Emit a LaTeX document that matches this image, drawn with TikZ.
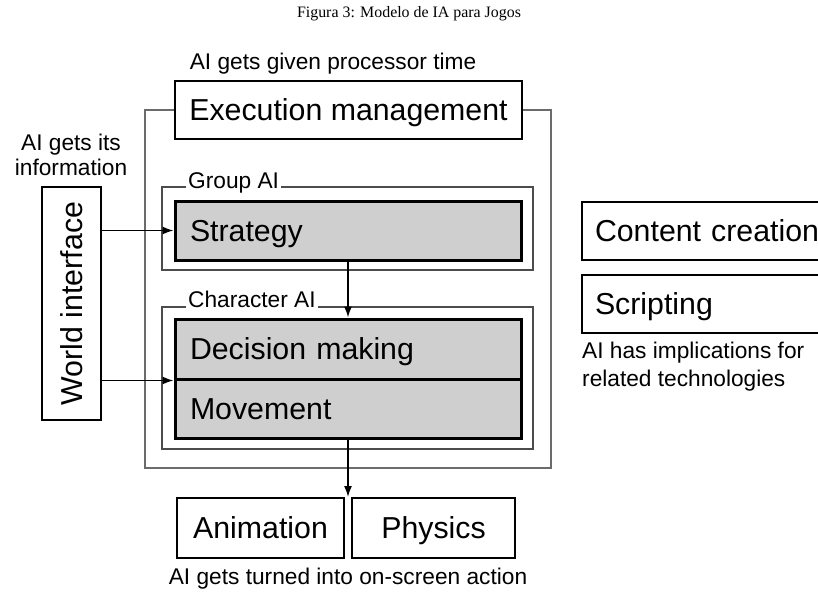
\documentclass[tikz,border=0pt]{standalone}
\usepackage{fontspec}
\setmainfont{Liberation Sans}
\newfontfamily\titlefont{Liberation Serif}
\usetikzlibrary{arrows.meta}
\definecolor{boxgray}{gray}{0.81}
\definecolor{framegray}{gray}{0.3}
\definecolor{outergray}{gray}{0.42}
\begin{document}
\begin{tikzpicture}[x=1pt,y=-1pt,
  big/.style={font=\fontsize{30.3}{36}\selectfont, text height=21.7pt, text depth=0pt},
  small/.style={font=\fontsize{22.7}{25}\selectfont},
  plainbox/.style={draw=black, line width=2.5pt, fill=white, big, inner sep=0pt},
  sidebox/.style={plainbox, text width=232pt, align=left, inner xsep=13pt, inner ysep=0pt, minimum height=58pt},
  aibox/.style={draw=black, line width=3pt, fill=boxgray, big, text width=316pt, align=left, inner xsep=15pt, inner ysep=0pt},
  aiframe/.style={draw=framegray, line width=1.6pt},
  framelabel/.style={small, fill=white, inner xsep=2pt, inner ysep=3pt, anchor=base west},
  note/.style={small, inner sep=0pt},
  arr/.style={line width=1.6pt, -{Latex[length=11pt,width=8pt]}},
]
\useasboundingbox (0,0) rectangle (818,591);
\clip (0,0) rectangle (818,591);

% caption
\node[font=\titlefont\fontsize{15.9}{19}\selectfont] (title) at (409,14) {Figura 3: Modelo de IA para Jogos};

% outer frame hanging from the execution manager
\coordinate (ol) at (145,110);
\coordinate (or) at (551,110);
\draw[draw=outergray, line width=2.5pt] (175,110) -- (ol) -- (145,468) -- (551,468) -- (or) -- (522,110);

% group and character frames
\draw[aiframe] (162,187) rectangle (533,270);
\draw[aiframe] (162,307) rectangle (533,449);
\node[framelabel] (grouplbl) at (186,188) {Group AI};
\node[framelabel] (charlbl) at (186,307) {Character AI};

% execution management
\node[note, anchor=base] (exectxt) at (333,70) {AI gets given processor time};
\node[plainbox, minimum width=347pt, minimum height=58pt] (exec) at (348.5,110) {Execution management};

% AI layers
\node[aibox, minimum height=59pt] (strategy) at (348,230.5) {Strategy};
\node[aibox, minimum height=60pt] (decision) at (348,349) {Decision making};
\node[aibox, minimum height=59pt] (movement) at (348,408.5) {Movement};

% world interface
\node[note, anchor=base] (worldtxta) at (71,150) {AI gets its};
\node[note, anchor=base] (worldtxtb) at (71,175) {information};
\node[plainbox, rotate=90, minimum width=233pt, minimum height=59pt] (world) at (71.5,303.5) {World interface};

% output side
\node[plainbox, minimum width=167pt, minimum height=60pt] (anim) at (260.5,528) {Animation};
\node[plainbox, minimum width=163pt, minimum height=60pt] (phys) at (433.5,528) {Physics};
\node[note, anchor=base] (outtxt) at (348,584) {AI gets turned into on-screen action};

% related technologies
\node[sidebox] (content) at (711,231) {Content creation};
\node[sidebox] (script) at (711,304) {Scripting};
\node[note, anchor=base west] (reltxta) at (582,358) {AI has implications for};
\node[note, anchor=base west] (reltxtb) at (582,386) {related technologies};

% connectors
\coordinate (outhit) at (348,497);
\draw[arr] (strategy.west -| world.south) -- (strategy.west);
\draw[arr] (decision.south west -| world.south) -- (decision.south west);
\draw[arr] (strategy.south) -- (decision.north);
\draw[arr] (movement.south) -- (outhit);
\end{tikzpicture}
\end{document}
